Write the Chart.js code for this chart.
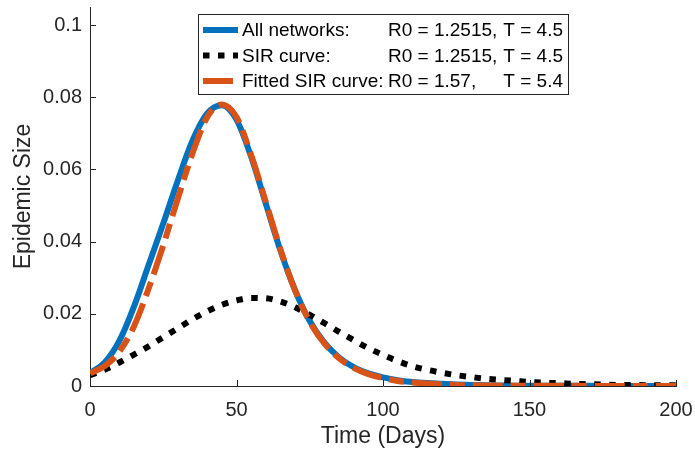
<!DOCTYPE html>
<html>
<head>
<meta charset="utf-8">
<script src="https://cdn.jsdelivr.net/npm/chart.js@4.4.1/dist/chart.umd.min.js"></script>
<style>
    html, body { margin: 0; padding: 0; background: #fff; }
    #wrap { width: 695px; height: 454px; }
</style>
</head>
<body>
<div id="wrap"><canvas id="epidemic-chart"></canvas></div>
<script>
const days = [0, 5, 10, 15, 20, 25, 30, 35, 40, 45, 50, 55, 60, 65, 70, 75, 80, 85, 90, 95,
    100, 105, 110, 115, 120, 125, 130, 135, 140, 145, 150, 155, 160, 165, 170, 175, 180, 185, 190, 195, 200];

const allNetworks = [0.0035, 0.0065, 0.0125, 0.022, 0.0335, 0.045, 0.057, 0.068, 0.0755, 0.0778, 0.0738,
    0.0635, 0.0505, 0.0375, 0.0265, 0.018, 0.012, 0.0079, 0.0052, 0.0035, 0.0024, 0.0016, 0.0011, 0.0008,
    0.0006, 0.0004, 0.0003, 0.0002, 0.00015, 0.0001, 0.0001, 0.00008, 0.00006, 0.00005, 0.00004, 0.00003,
    0.00003, 0.00002, 0.00002, 0.00002, 0.00001];

const sirCurve = [0.003, 0.0045, 0.0065, 0.0087, 0.011, 0.0135, 0.016, 0.0185, 0.0207, 0.0225, 0.0237,
    0.0244, 0.0243, 0.0234, 0.0218, 0.0197, 0.0174, 0.015, 0.0127, 0.0105, 0.0086, 0.0069, 0.0055, 0.0045,
    0.0037, 0.003, 0.0025, 0.002, 0.0017, 0.0014, 0.0011, 0.0009, 0.0008, 0.0006, 0.0005, 0.0004, 0.0003,
    0.0003, 0.0002, 0.0002, 0.0002];

const fittedSir = [0.0035, 0.0055, 0.0095, 0.0165, 0.027, 0.039, 0.052, 0.0645, 0.0745, 0.078, 0.0745,
    0.064, 0.051, 0.0378, 0.0265, 0.0178, 0.0118, 0.0077, 0.005, 0.0033, 0.0022, 0.0014, 0.001, 0.0007,
    0.0005, 0.0003, 0.0002, 0.00015, 0.0001, 0.0001, 0.00008, 0.00006, 0.00005, 0.00004, 0.00003, 0.00003,
    0.00002, 0.00002, 0.00002, 0.00001, 0.00001];

const seriesNames = ['All networks:', 'SIR curve:', 'Fitted SIR curve:'];
const r0Labels = ['R0 = 1.2515,', 'R0 = 1.2515,', 'R0 = 1.57,'];
const tLabels = ['T = 4.5', 'T = 4.5', 'T = 5.4'];

const xTicks = [0, 50, 100, 150, 200];
const yTicks = [0, 0.02, 0.04, 0.06, 0.08, 0.1];

const FONT = '"Liberation Sans", Arial, Helvetica, sans-serif';
const AXIS_COLOR = '#262626';

function toPoints(values) {
    return days.map((d, i) => ({ x: d, y: values[i] }));
}

// small tick marks pointing into the plot, like MATLAB
const inwardTicks = {
    id: 'inwardTicks',
    afterDraw(chart) {
        const { ctx, chartArea, scales } = chart;
        ctx.save();
        ctx.strokeStyle = AXIS_COLOR;
        ctx.lineWidth = 1;
        ctx.beginPath();
        scales.x.ticks.forEach(t => {
            const px = Math.round(scales.x.getPixelForValue(t.value)) + 0.5;
            ctx.moveTo(px, chartArea.bottom);
            ctx.lineTo(px, chartArea.bottom - 6);
        });
        scales.y.ticks.forEach(t => {
            const py = Math.round(scales.y.getPixelForValue(t.value)) + 0.5;
            ctx.moveTo(chartArea.left, py);
            ctx.lineTo(chartArea.left + 6, py);
        });
        ctx.stroke();
        ctx.restore();
    }
};

// boxed legend in the top of the axes
const boxLegend = {
    id: 'boxLegend',
    afterDraw(chart) {
        const { ctx } = chart;
        const box = { left: 198.5, top: 14.5, right: 568.5, bottom: 94.5 };
        const rows = [31, 56.5, 82];
        ctx.save();
        ctx.fillStyle = '#fff';
        ctx.fillRect(box.left, box.top, box.right - box.left, box.bottom - box.top);
        ctx.strokeStyle = AXIS_COLOR;
        ctx.lineWidth = 1;
        ctx.strokeRect(box.left, box.top, box.right - box.left, box.bottom - box.top);

        ctx.font = '19px ' + FONT;
        ctx.textBaseline = 'middle';
        chart.data.datasets.forEach((ds, i) => {
            const y = rows[i];
            ctx.save();
            ctx.strokeStyle = ds.borderColor;
            ctx.lineWidth = ds.borderWidth;
            ctx.lineCap = 'butt';
            ctx.setLineDash(ds.borderDash || []);
            ctx.beginPath();
            ctx.moveTo(203, y - 1);
            ctx.lineTo(238, y - 1);
            ctx.stroke();
            ctx.restore();

            ctx.fillStyle = '#000';
            ctx.textAlign = 'left';
            ctx.fillText(seriesNames[i], 242, y);
            ctx.fillText(r0Labels[i], 388, y);
            ctx.textAlign = 'right';
            ctx.fillText(tLabels[i], 563, y);
        });
        ctx.restore();
    }
};

new Chart(document.getElementById('epidemic-chart'), {
    type: 'line',
    data: {
        datasets: [
            {
                label: seriesNames[0],
                data: toPoints(allNetworks),
                borderColor: '#0072BD',
                borderWidth: 6,
                order: 3
            },
            {
                label: seriesNames[1],
                data: toPoints(sirCurve),
                borderColor: '#000000',
                borderWidth: 6,
                borderDash: [6.5, 8.5],
                order: 2
            },
            {
                label: seriesNames[2],
                data: toPoints(fittedSir),
                borderColor: '#D95319',
                borderWidth: 6,
                borderDash: [30, 8, 15, 8],
                order: 1
            }
        ]
    },
    options: {
        responsive: true,
        maintainAspectRatio: false,
        animation: false,
        layout: { padding: { left: 0, right: 19, top: 7, bottom: 0 } },
        elements: {
            point: { radius: 0 },
            line: { cubicInterpolationMode: 'monotone', fill: false, borderCapStyle: 'butt' }
        },
        scales: {
            x: {
                type: 'linear',
                min: 0,
                max: 200,
                afterBuildTicks: axis => { axis.ticks = xTicks.map(v => ({ value: v })); },
                afterFit: axis => {
                    axis.height = 68;
                    axis.paddingLeft = 0;
                    axis.paddingRight = 0;
                },
                grid: { display: false, drawTicks: false },
                border: { display: true, color: AXIS_COLOR, width: 1 },
                ticks: {
                    color: AXIS_COLOR,
                    padding: 12,
                    maxRotation: 0,
                    font: { family: FONT, size: 20 }
                },
                title: {
                    display: true,
                    text: 'Time (Days)',
                    color: AXIS_COLOR,
                    padding: { top: 0, bottom: 4 },
                    font: { family: FONT, size: 23 }
                }
            },
            y: {
                min: 0,
                max: 0.105,
                afterBuildTicks: axis => { axis.ticks = yTicks.map(v => ({ value: v })); },
                afterFit: axis => {
                    axis.width = 90;
                    axis.paddingTop = 0;
                    axis.paddingBottom = 0;
                },
                grid: { display: false, drawTicks: false },
                border: { display: true, color: AXIS_COLOR, width: 1 },
                ticks: {
                    color: AXIS_COLOR,
                    padding: 8,
                    callback: v => String(v),
                    font: { family: FONT, size: 20 }
                },
                title: {
                    display: true,
                    text: 'Epidemic Size',
                    color: AXIS_COLOR,
                    padding: { top: 10, bottom: 0 },
                    font: { family: FONT, size: 23 }
                }
            }
        },
        plugins: {
            legend: { display: false },
            tooltip: { enabled: false }
        }
    },
    plugins: [inwardTicks, boxLegend]
});
</script>
</body>
</html>
